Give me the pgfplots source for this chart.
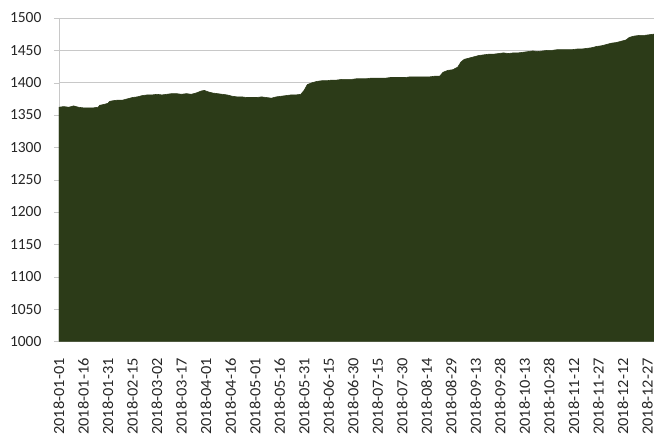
\documentclass[border=0pt]{standalone}
\usepackage{pgfplots}
\pgfplotsset{compat=1.18}
\usepackage{fontspec}
\setmainfont{Carlito}
\definecolor{areagreen}{RGB}{44,59,24}
\definecolor{gridgray}{RGB}{200,200,200}
\begin{document}
\begin{tikzpicture}
\begin{axis}[
    name=main,
    scale only axis,
    width=596pt, height=324pt,
    xmin=0, xmax=364,
    ymin=1000, ymax=1500,
    ytick={1000,1050,...,1500},
    xtick={0,15,...,360},
    xticklabels={2018-01-01,2018-01-16,2018-01-31,2018-02-15,2018-03-02,2018-03-17,2018-04-01,2018-04-16,2018-05-01,2018-05-16,2018-05-31,2018-06-15,2018-06-30,2018-07-15,2018-07-30,2018-08-14,2018-08-29,2018-09-13,2018-09-28,2018-10-13,2018-10-28,2018-11-12,2018-11-27,2018-12-12,2018-12-27},
    x tick label style={rotate=90, anchor=east, xscale=1.06, font=\fontsize{15.5}{16}\selectfont, text=black!85},
    y tick label style={font=\fontsize{15.5}{16}\selectfont, text=black!85},
    /pgf/number format/assume math mode=true,
    /pgf/number format/1000 sep={},
    axis line style={gridgray},
    axis x line*=bottom,
    axis y line*=left,
    ymajorgrids,
    grid style={gridgray, line width=0.8pt},
    major tick length=5pt,
    ytick style={gridgray},
    xtick style={draw=none},
    tick align=outside,
    xticklabel shift=8pt,
    yticklabel shift=9pt,
]
\addplot[fill=areagreen, draw=areagreen, line width=0.6pt] coordinates {
(0,1362) (3,1363) (6,1362) (9,1364) (12,1362) (15,1361) (18,1361) (21,1361) (24,1362)
(25,1365) (27,1366) (30,1368) (31,1371) (33,1372) (36,1373) (39,1373) (42,1375) (45,1377)
(48,1378) (51,1380) (54,1381) (57,1381) (60,1382) (63,1381) (66,1382) (69,1383) (72,1383)
(75,1382) (78,1383) (81,1382) (84,1384) (87,1387) (89,1388) (91,1386) (94,1384) (97,1383)
(100,1382) (103,1381) (106,1379) (109,1378) (112,1378) (115,1377) (118,1377) (121,1377)
(124,1378) (127,1377) (130,1376) (133,1378) (136,1379) (139,1380) (142,1381) (145,1381)
(148,1382) (150,1388) (152,1397) (155,1400) (158,1402) (161,1403) (164,1403) (167,1404)
(170,1404) (173,1405) (176,1405) (179,1405) (182,1406) (185,1406) (188,1406) (191,1407)
(194,1407) (197,1407) (200,1407) (203,1408) (206,1408) (209,1408) (212,1408) (215,1409)
(218,1409) (221,1409) (224,1409) (227,1409) (230,1410) (233,1410) (235,1416) (238,1419)
(241,1420) (244,1424) (246,1432) (248,1436) (251,1438) (254,1440) (257,1442) (260,1443)
(263,1444) (266,1444) (269,1445) (272,1446) (275,1445) (278,1446) (281,1446) (284,1447)
(287,1448) (290,1449) (293,1448) (296,1449) (299,1450) (302,1450) (305,1451) (308,1451)
(311,1451) (314,1451) (317,1452) (320,1452) (323,1453) (326,1454) (329,1456) (332,1457)
(335,1459) (338,1461) (341,1462) (344,1464) (347,1466) (349,1470) (352,1472) (355,1473)
(358,1473) (361,1474) (364,1475)
} \closedcycle;
\end{axis}
\path (main.south west) ++(-59pt,-99pt);
\path (main.north east) ++(1pt,18pt);
\end{tikzpicture}
\end{document}
